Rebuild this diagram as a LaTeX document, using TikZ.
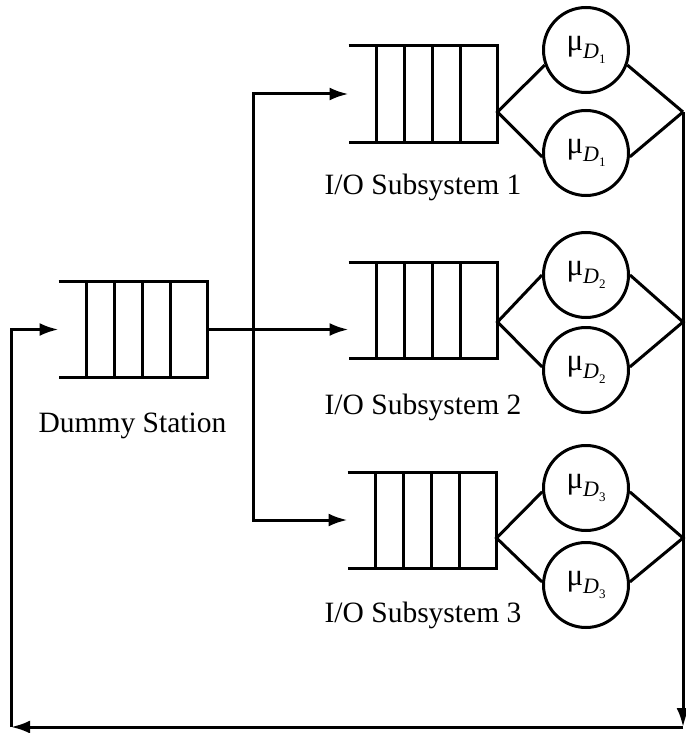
\documentclass[tikz,border=0pt]{standalone}
\usepackage{fontspec}
\setmainfont{Liberation Serif}
\usetikzlibrary{arrows.meta,positioning,calc}

\newcommand{\svcrate}[1]{μ\raisebox{-0.26em}{\fontsize{22}{22}\selectfont\textit{D}\raisebox{-0.22em}{\fontsize{13}{13}\selectfont #1}}}

\begin{document}
\begin{tikzpicture}[
    x=1pt, y=-1pt,
    line width=3pt,
    font=\fontsize{29.5}{32}\selectfont,
    buffer/.style={
      minimum width=118pt,
      minimum height=93pt,
      inner sep=0pt,
    },
    server/.style={
      circle,
      draw,
      minimum size=85pt,
      inner sep=0pt,
      font=\fontsize{31}{31}\selectfont,
    },
    caption/.style={inner sep=0pt, anchor=base},
    flow/.style={-{Latex[length=19pt,width=13pt]}},
  ]
    \useasboundingbox (0,0) rectangle (685,733);

    % queues (box part only, the open tail is drawn below)
    \node[buffer] (Dummy) at (147,329.5) {};
    \node[buffer] (QA) at (437,94) {};
    \node[buffer] (QB) at (437,310) {};
    \node[buffer] (QC) at (436,520) {};

    \draw ($(Dummy.north west)+(-28,0)$) -- (Dummy.north east) -- (Dummy.south east) -- ($(Dummy.south west)+(-28,0)$);
    \draw (Dummy.north west) -- (Dummy.south west);
    \draw ($(Dummy.north west)+(28,0)$) -- ($(Dummy.south west)+(28,0)$);
    \draw ($(Dummy.north west)+(56,0)$) -- ($(Dummy.south west)+(56,0)$);
    \draw ($(Dummy.north west)+(84,0)$) -- ($(Dummy.south west)+(84,0)$);

    \draw ($(QA.north west)+(-28,0)$) -- (QA.north east) -- (QA.south east) -- ($(QA.south west)+(-28,0)$);
    \draw (QA.north west) -- (QA.south west);
    \draw ($(QA.north west)+(28,0)$) -- ($(QA.south west)+(28,0)$);
    \draw ($(QA.north west)+(56,0)$) -- ($(QA.south west)+(56,0)$);
    \draw ($(QA.north west)+(84,0)$) -- ($(QA.south west)+(84,0)$);

    \draw ($(QB.north west)+(-28,0)$) -- (QB.north east) -- (QB.south east) -- ($(QB.south west)+(-28,0)$);
    \draw (QB.north west) -- (QB.south west);
    \draw ($(QB.north west)+(28,0)$) -- ($(QB.south west)+(28,0)$);
    \draw ($(QB.north west)+(56,0)$) -- ($(QB.south west)+(56,0)$);
    \draw ($(QB.north west)+(84,0)$) -- ($(QB.south west)+(84,0)$);

    \draw ($(QC.north west)+(-28,0)$) -- (QC.north east) -- (QC.south east) -- ($(QC.south west)+(-28,0)$);
    \draw (QC.north west) -- (QC.south west);
    \draw ($(QC.north west)+(28,0)$) -- ($(QC.south west)+(28,0)$);
    \draw ($(QC.north west)+(56,0)$) -- ($(QC.south west)+(56,0)$);
    \draw ($(QC.north west)+(84,0)$) -- ($(QC.south west)+(84,0)$);

    % captions
    \node[caption] (DummyLbl) at (132.5,432) {Dummy Station};
    \node[caption] (LblA) at (423,194) {I/O Subsystem 1};
    \node[caption] (LblB) at (423,414) {I/O Subsystem 2};
    \node[caption] (LblC) at (423,622) {I/O Subsystem 3};

    % disks
    \node[server] (DA1) at (586,50) {\svcrate{1}};
    \node[server] (DA2) at (586,153) {\svcrate{1}};
    \node[server] (DB1) at (586,275) {\svcrate{2}};
    \node[server] (DB2) at (586,370) {\svcrate{2}};
    \node[server] (DC1) at (586,488) {\svcrate{3}};
    \node[server] (DC2) at (586,585) {\svcrate{3}};

    % fork / join points
    \coordinate (ForkA) at ($(QA.east)+(0,18)$);
    \coordinate (ForkB) at ($(QB.east)+(0,12)$);
    \coordinate (ForkC) at ($(QC.east)+(0,18)$);
    \coordinate (JoinA) at (683,112);
    \coordinate (JoinB) at (683,322);
    \coordinate (JoinC) at (683,538);
    \coordinate (CornerBR) at (683,727);
    \coordinate (CornerBL) at (11,727);

    \draw (DA1.200) -- (ForkA) -- (DA2.185);
    \draw (DA1.340) -- (JoinA);
    \draw (DA2.355) -- (JoinA);
    \draw (DB1.180) -- (ForkB) -- (DB2.176);
    \draw (DB1.0) -- (JoinB) -- (DB2.4);
    \draw (DC1.185) -- (ForkC) -- (DC2.176);
    \draw (DC1.355) -- (JoinC) -- (DC2.4);

    % dispatch from the dummy station
    \coordinate (Split) at (253,329.5);
    \coordinate (InA) at ($(QA.west)+(-28,0)$);
    \coordinate (InB) at ($(QB.west |- Split)+(-28,0)$);
    \coordinate (InC) at ($(QC.west)+(-28,0)$);
    \coordinate (InDummy) at ($(Dummy.west)+(-28,0)$);
    \draw (Dummy.east) -- (Split);
    \draw[flow] (Split) |- (InA);
    \draw[flow] (Split) -- (InB);
    \draw[flow] (Split) |- (InC);

    % feedback loop
    \draw[flow] (JoinA) -- (CornerBR);
    \draw[flow] (CornerBR) -- (CornerBL);
    \draw[flow] (CornerBL) |- (InDummy);
  \end{tikzpicture}
\end{document}
